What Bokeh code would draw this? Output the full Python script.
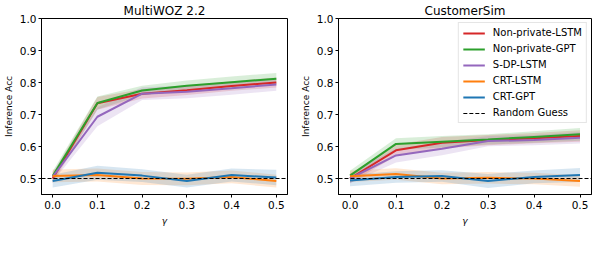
from bokeh.plotting import figure
from bokeh.layouts import row
from bokeh.models import FixedTicker, NumeralTickFormatter
from bokeh.embed import file_html
from bokeh.resources import INLINE

# ---------------- data ----------------
gamma = [0.0, 0.1, 0.2, 0.3, 0.4, 0.5]
x_ticks = [0.0, 0.1, 0.2, 0.3, 0.4, 0.5]
y_ticks = [0.5, 0.6, 0.7, 0.8, 0.9, 1.0]
random_guess = 0.5

series_names = ["Non-private-LSTM", "Non-private-GPT", "S-DP-LSTM", "CRT-LSTM", "CRT-GPT"]

# MultiWOZ 2.2
mw_np_lstm = [0.500, 0.735, 0.765, 0.776, 0.789, 0.800]
mw_np_gpt = [0.508, 0.736, 0.775, 0.790, 0.801, 0.812]
mw_sdp_lstm = [0.505, 0.693, 0.765, 0.771, 0.782, 0.794]
mw_crt_lstm = [0.508, 0.511, 0.500, 0.499, 0.505, 0.492]
mw_crt_gpt = [0.492, 0.518, 0.509, 0.492, 0.511, 0.503]

mw_np_lstm_sd = [0.015, 0.020, 0.015, 0.015, 0.015, 0.016]
mw_np_gpt_sd = [0.015, 0.020, 0.015, 0.016, 0.018, 0.018]
mw_sdp_lstm_sd = [0.015, 0.030, 0.020, 0.020, 0.020, 0.020]
mw_crt_lstm_sd = [0.020, 0.020, 0.020, 0.020, 0.020, 0.020]
mw_crt_gpt_sd = [0.020, 0.022, 0.020, 0.020, 0.020, 0.024]

# CustomerSim
cs_np_lstm = [0.500, 0.588, 0.612, 0.620, 0.626, 0.633]
cs_np_gpt = [0.509, 0.608, 0.615, 0.622, 0.630, 0.638]
cs_sdp_lstm = [0.500, 0.572, 0.593, 0.617, 0.620, 0.627]
cs_crt_lstm = [0.507, 0.514, 0.500, 0.502, 0.500, 0.492]
cs_crt_gpt = [0.494, 0.505, 0.508, 0.492, 0.505, 0.511]

cs_np_lstm_sd = [0.015, 0.018, 0.018, 0.016, 0.016, 0.018]
cs_np_gpt_sd = [0.015, 0.018, 0.018, 0.016, 0.018, 0.020]
cs_sdp_lstm_sd = [0.015, 0.022, 0.020, 0.016, 0.016, 0.018]
cs_crt_lstm_sd = [0.018, 0.018, 0.018, 0.018, 0.018, 0.018]
cs_crt_gpt_sd = [0.018, 0.018, 0.018, 0.022, 0.020, 0.022]

colors = ["#d62728", "#2ca02c", "#9467bd", "#ff7f0e", "#1f77b4"]

x_range = (-0.025, 0.525)
y_range = (0.45, 1.0)

FONT = "DejaVu Sans"


def make_plot(title, means, sds, width, border_left, border_right, legend):
    p = figure(width=width, height=230, x_range=x_range, y_range=y_range,
               output_backend="svg", toolbar_location=None,
               min_border_left=border_left, min_border_right=border_right,
               min_border_top=16, min_border_bottom=36)
    p.title.text = title
    p.title.align = "center"
    p.title.text_font = FONT
    p.title.text_font_size = "12px"
    p.title.text_font_style = "normal"
    p.title.text_color = "#000000"
    p.title.standoff = 2
    p.grid.visible = False
    p.outline_line_color = "#000000"
    p.outline_line_width = 1
    p.background_fill_color = "white"

    for ax in (p.xaxis[0], p.yaxis[0]):
        ax.axis_line_color = "#000000"
        ax.major_tick_line_color = "#000000"
        ax.major_tick_out = 3
        ax.major_tick_in = 0
        ax.minor_tick_line_color = None
        ax.major_label_text_font = FONT
        ax.major_label_text_font_size = "10.5px"
        ax.major_label_text_color = "#000000"
        ax.axis_label_text_font = FONT
        ax.axis_label_text_font_size = "9px"
        ax.axis_label_text_color = "#000000"
        ax.formatter = NumeralTickFormatter(format="0.0")

    p.xaxis.ticker = FixedTicker(ticks=x_ticks)
    p.yaxis.ticker = FixedTicker(ticks=y_ticks)
    p.xaxis.axis_label = "γ"
    p.xaxis.axis_label_text_font_style = "italic"
    p.xaxis.axis_label_standoff = 4
    p.xaxis.major_label_standoff = 3
    p.yaxis.axis_label = "Inference Acc"
    p.yaxis.axis_label_text_font_style = "normal"
    p.yaxis.axis_label_standoff = 3
    p.yaxis.major_label_standoff = 2

    for m, s, c in zip(means, sds, colors):
        lo = [a - b for a, b in zip(m, s)]
        hi = [a + b for a, b in zip(m, s)]
        p.varea(x=gamma, y1=lo, y2=hi, fill_color=c, fill_alpha=0.18)

    for m, c, name in zip(means, colors, series_names):
        kw = {"legend_label": name} if legend else {}
        p.line(gamma, m, line_color=c, line_width=2, **kw)

    kw = {"legend_label": "Random Guess"} if legend else {}
    p.line([x_range[0], x_range[1]], [random_guess, random_guess],
           line_color="#000000", line_width=1, line_dash="4 2", **kw)

    if legend:
        lg = p.legend[0]
        lg.location = "top_right"
        lg.margin = 4
        lg.padding = 4
        lg.spacing = 5
        lg.label_height = 10
        lg.glyph_height = 10
        lg.glyph_width = 22
        lg.label_standoff = 8
        lg.label_text_font = FONT
        lg.label_text_font_size = "10px"
        lg.label_text_color = "#000000"
        lg.border_line_color = "#cccccc"
        lg.border_line_width = 1
        lg.background_fill_alpha = 0.8
    return p


p1 = make_plot("MultiWOZ 2.2",
               [mw_np_lstm, mw_np_gpt, mw_sdp_lstm, mw_crt_lstm, mw_crt_gpt],
               [mw_np_lstm_sd, mw_np_gpt_sd, mw_sdp_lstm_sd, mw_crt_lstm_sd, mw_crt_gpt_sd],
               width=290, border_left=34, border_right=3, legend=False)
p2 = make_plot("CustomerSim",
               [cs_np_lstm, cs_np_gpt, cs_sdp_lstm, cs_crt_lstm, cs_crt_gpt],
               [cs_np_lstm_sd, cs_np_gpt_sd, cs_sdp_lstm_sd, cs_crt_lstm_sd, cs_crt_gpt_sd],
               width=302, border_left=48, border_right=1, legend=True)

layout = row(p1, p2)
open("out.html", "w").write(file_html(layout, INLINE))
